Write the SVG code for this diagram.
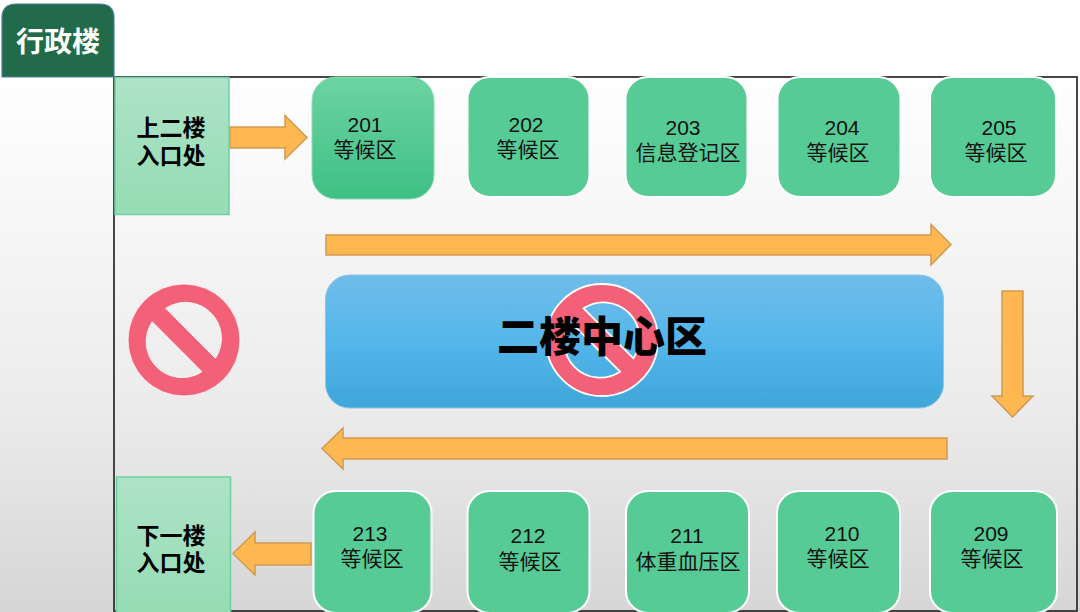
<svg xmlns="http://www.w3.org/2000/svg" width="1080" height="612" viewBox="0 0 1080 612">
<style>
text{font-family:"Liberation Sans","Noto Sans CJK SC",sans-serif;text-anchor:middle;fill:#111}
.r{fill:#56cb96;stroke:#fff;stroke-width:2}
.t{font-size:21px}
.cj{font-family:"Noto Sans CJK SC",sans-serif}
.b{font-family:"Noto Sans CJK SC",sans-serif;font-weight:700;font-size:23px;fill:#000}
.entry{fill:url(#gEntry);stroke:#6fd0a3;stroke-width:1.5}
.arrow{fill:#ffb752;stroke:#cf9a50;stroke-width:1.5}
.no{fill:#f26178;fill-rule:evenodd;stroke:#fff}
</style>
<defs>
<linearGradient id="gBg" x1="0" y1="0" x2="0" y2="1"><stop offset="0" stop-color="#fff"/><stop offset="0.12" stop-color="#fff"/><stop offset="0.65" stop-color="#ececec"/><stop offset="1" stop-color="#d6d6d6"/></linearGradient>
<linearGradient id="gEntry" x1="0" y1="0" x2="0" y2="1"><stop offset="0" stop-color="#aee3c7"/><stop offset="1" stop-color="#95dcb4"/></linearGradient>
<linearGradient id="g201" x1="0" y1="0" x2="0" y2="1"><stop offset="0" stop-color="#6cd3a2"/><stop offset="1" stop-color="#3fc085"/></linearGradient>
<linearGradient id="gBlue" x1="0" y1="0" x2="0" y2="1"><stop offset="0" stop-color="#6fbde9"/><stop offset="0.5" stop-color="#54b6ea"/><stop offset="1" stop-color="#3fa6da"/></linearGradient>
<path id="noSign" d="M-56 0A56 56 0 1 1 56 0A56 56 0 1 1 -56 0ZM-18.400-31.700A36 36 0 0 1 31.400 18.300ZM-31.800-18.300L18 31.700A36 36 0 0 1 -31.800-18.300Z"/>
</defs>
<rect width="1080" height="612" fill="url(#gBg)"/>
<g id="frame"><rect x="114" y="77" width="963" height="534" fill="none" stroke="#333" stroke-width="1.800"/></g>
<g id="title"><path d="M2 77V18Q2 4 16 4H100Q114 4 114 18V77Z" fill="#216b4a" stroke="#4f7bab" stroke-width="1.200"/><text x="58" y="52" class="cj" style="font-size:28px;font-weight:700;fill:#fff">行政楼</text></g>
<g id="connectors">
<path class="arrow" d="M230 127H285V115.500L307 137.500L285 159V148H230Z"/>
<path class="arrow" d="M326 235H931V224.500L951 244.500L931 265V255H326Z"/>
<path class="arrow" d="M1002 291H1023V396H1033L1012.500 417L992 396H1002Z"/>
<path class="arrow" d="M947 438H343V428L322 448.500L343 469V459H947Z"/>
<path class="arrow" d="M311 543H255V532L233 553.500L255 575V565H311Z"/>
</g>
<g id="entry-up"><rect class="entry" x="115" y="77.500" width="114" height="137"/><text class="b"><tspan x="171" y="136">上二楼</tspan><tspan x="171" y="164">入口处</tspan></text></g>
<g id="entry-down"><rect class="entry" x="116.500" y="477" width="114" height="136"/><text class="b"><tspan x="171" y="544">下一楼</tspan><tspan x="171" y="571">入口处</tspan></text></g>
<g id="r201"><rect x="312" y="77" width="122" height="122" rx="24" fill="url(#g201)" stroke="#8ddcb8" stroke-width="1"/><text class="t"><tspan x="365" y="132">201</tspan><tspan class="cj" x="365" y="157">等候区</tspan></text></g>
<g id="r202"><rect class="r" x="467.500" y="77" width="122" height="120" rx="22"/><text class="t"><tspan x="526" y="132">202</tspan><tspan class="cj" x="528" y="157">等候区</tspan></text></g>
<g id="r203"><rect class="r" x="625.500" y="77" width="122" height="120" rx="22"/><text class="t"><tspan x="683" y="135">203</tspan><tspan class="cj" x="688" y="160">信息登记区</tspan></text></g>
<g id="r204"><rect class="r" x="777.500" y="77" width="123" height="120" rx="22"/><text class="t"><tspan x="842" y="135">204</tspan><tspan class="cj" x="838" y="160">等候区</tspan></text></g>
<g id="r205"><rect class="r" x="930" y="77" width="126" height="120" rx="22"/><text class="t"><tspan x="999" y="135">205</tspan><tspan class="cj" x="996" y="160">等候区</tspan></text></g>
<g id="r213"><rect class="r" x="313.500" y="491" width="118" height="122" rx="22"/><text class="t"><tspan x="370" y="541">213</tspan><tspan class="cj" x="372" y="566">等候区</tspan></text></g>
<g id="r212"><rect class="r" x="467.500" y="491" width="122" height="122" rx="22"/><text class="t"><tspan x="528" y="543">212</tspan><tspan class="cj" x="530" y="569">等候区</tspan></text></g>
<g id="r211"><rect class="r" x="626" y="491" width="123" height="122" rx="22"/><text class="t"><tspan x="687" y="543">211</tspan><tspan class="cj" x="688" y="569">体重血压区</tspan></text></g>
<g id="r210"><rect class="r" x="777" y="491" width="123" height="122" rx="22"/><text class="t"><tspan x="842" y="541">210</tspan><tspan class="cj" x="838" y="566">等候区</tspan></text></g>
<g id="r209"><rect class="r" x="930" y="491" width="127" height="122" rx="22"/><text class="t"><tspan x="991" y="541">209</tspan><tspan class="cj" x="992" y="566">等候区</tspan></text></g>
<g id="center"><rect x="325.500" y="275" width="618" height="133" rx="24" fill="url(#gBlue)" stroke="#8cc8ea" stroke-width="1"/>
<use href="#noSign" class="no" x="602" y="340" style="stroke-width:1.800"/>
<text x="602" y="352" class="cj" style="font-size:42px;font-weight:900;fill:#000">二楼中心区</text></g>
<g id="no-left"><use href="#noSign" class="no" x="184" y="340" style="stroke-width:0.800"/></g>
</svg>
